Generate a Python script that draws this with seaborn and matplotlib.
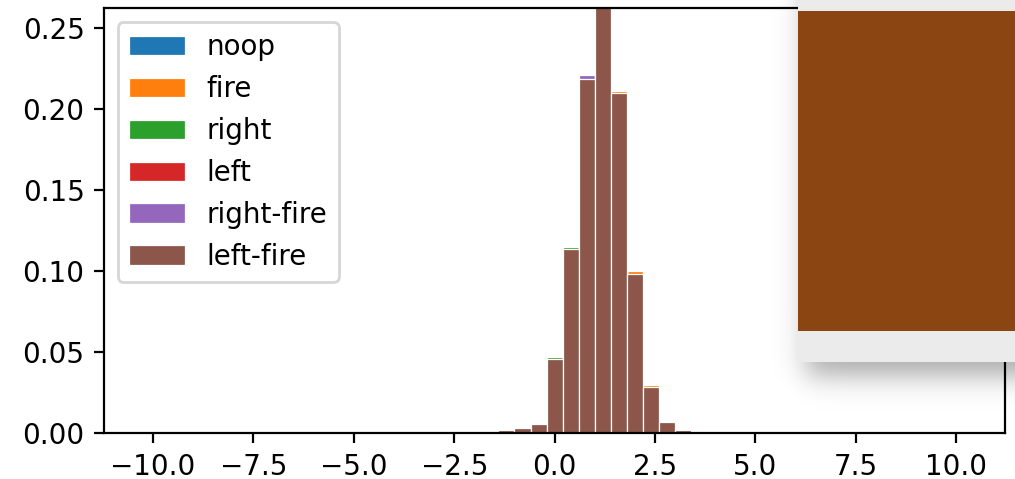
import numpy as np
import pandas as pd
import matplotlib
matplotlib.use("Agg")
import matplotlib.pyplot as plt
import seaborn as sns
from matplotlib.patches import Patch, Rectangle

# ---- data -------------------------------------------------------------
atoms = np.linspace(-10, 10, 51)          # C51 support
support = [-1.2, -0.8, -0.4, 0.0, 0.4, 0.8, 1.2, 1.6, 2.0, 2.4, 2.8, 3.2]

noop       = [0.0018, 0.0031, 0.0055, 0.0450, 0.1125, 0.2175, 0.2655, 0.2090, 0.0975, 0.0280, 0.0066, 0.0019]
fire       = [0.0017, 0.0030, 0.0054, 0.0445, 0.1120, 0.2170, 0.2640, 0.2112, 0.0999, 0.0297, 0.0067, 0.0019]
right      = [0.0018, 0.0031, 0.0056, 0.0472, 0.1149, 0.2160, 0.2650, 0.2080, 0.0970, 0.0275, 0.0065, 0.0019]
left       = [0.0018, 0.0031, 0.0054, 0.0452, 0.1132, 0.2170, 0.2650, 0.2090, 0.0975, 0.0278, 0.0065, 0.0019]
right_fire = [0.0018, 0.0031, 0.0056, 0.0450, 0.1130, 0.2207, 0.2660, 0.2080, 0.0970, 0.0280, 0.0067, 0.0019]
left_fire  = [0.0020, 0.0033, 0.0058, 0.0458, 0.1139, 0.2186, 0.2680, 0.2100, 0.0981, 0.0283, 0.0068, 0.0021]

actions = ["noop", "fire", "right", "left", "right-fire", "left-fire"]
series = [noop, fire, right, left, right_fire, left_fire]
colors = ["#1f77b4", "#ff7f0e", "#2ca02c", "#d62728", "#9467bd", "#8c564b"]

x_ticks = [-10.0, -7.5, -5.0, -2.5, 0.0, 2.5, 5.0, 7.5, 10.0]
y_ticks = [0.00, 0.05, 0.10, 0.15, 0.20, 0.25]


def full(p):
    arr = np.zeros_like(atoms)
    for s, v in zip(support, p):
        arr[np.argmin(np.abs(atoms - s))] = v
    return arr


# ---- figure -----------------------------------------------------------
W, H, DPI = 1015, 479, 200
fig = plt.figure(figsize=(W / DPI, H / DPI), dpi=DPI)
ax = fig.add_axes([104 / W, 1 - 433.3 / H, (1005.3 - 104) / W, (433.3 - 8.3) / H])

edges = list(np.append(atoms - 0.2, atoms[-1] + 0.2))
for name, vals, c in zip(actions, series, colors):
    df = pd.DataFrame({"atom": atoms, "p": full(vals)})
    sns.histplot(data=df, x="atom", weights="p", bins=edges, color=c, alpha=1,
                 edgecolor="white", linewidth=0.45, ax=ax)

ax.set_xlabel("")
ax.set_ylabel("")
ax.set_ylim(0, 0.262)
ax.set_xticks(x_ticks)
ax.set_yticks(y_ticks)

handles = [Patch(facecolor=c, edgecolor="white", linewidth=0.45, label=n)
           for n, c in zip(actions, colors)]
ax.legend(handles=handles, loc="upper left")

# ---- overlaid screenshot panel (decoration) ---------------------------
oax = fig.add_axes([0, 0, 1, 1])
oax.set_xlim(0, W)
oax.set_ylim(H, 0)
oax.axis("off")


def smooth(z):
    return 0.5 * (1 + np.tanh(0.85 * z))


xs = np.arange(700, W) + 0.5
ys = np.arange(0, H) + 0.5
a = 0.33 * smooth((xs[None, :] - 806) / 14) * smooth((376 - ys[:, None]) / 14)
rgba = np.zeros((len(ys), len(xs), 4))
rgba[..., 3] = a
oax.imshow(rgba, extent=(700, W, H, 0), aspect="auto", interpolation="bilinear")

oax.add_patch(Rectangle((797.7, 0), 300, 362.3, facecolor="#ebebeb", edgecolor="none"))
oax.add_patch(Rectangle((797.7, 10.7), 300, 320, facecolor="#8b4513", edgecolor="none"))
oax.set_xlim(0, W)
oax.set_ylim(H, 0)

fig.savefig("out.png", dpi=DPI)
